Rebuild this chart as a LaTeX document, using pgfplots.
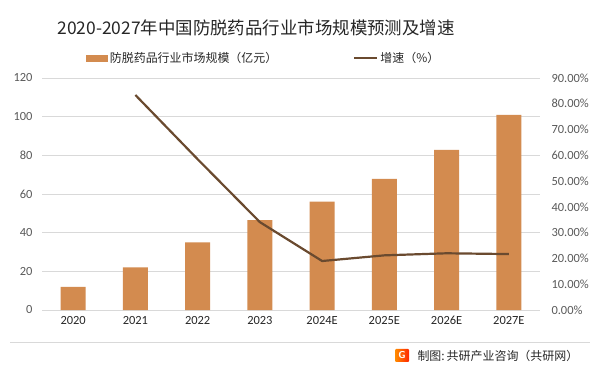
\documentclass[border=0pt]{standalone}
\usepackage{pgfplots}
\pgfplotsset{compat=1.18}
\usepackage{fontspec}
\setmainfont{Carlito}
\newfontfamily\cjk{Noto Sans CJK SC}
\definecolor{barc}{HTML}{D38B4F}
\definecolor{linec}{HTML}{6A4A2F}
\definecolor{gridc}{HTML}{D9D9D9}
\definecolor{tickc}{HTML}{595959}
\definecolor{txtc}{HTML}{262626}
\begin{document}
\begin{tikzpicture}
\useasboundingbox (0bp,0bp) rectangle (599bp,372bp);
\begin{axis}[
  at={(42bp,62bp)}, anchor=south west,
  scale only axis, width=498bp, height=232bp,
  xmin=-0.5, xmax=7.5, ymin=0, ymax=120,
  ytick={0,20,...,120},
  xtick={0,...,7},
  xticklabels={2020,2021,2022,2023,2024E,2025E,2026E,2027E},
  axis line style={draw=none},
  major tick length=0pt,
  ymajorgrids,
  grid style={gridc, line width=0.8bp},
  /pgf/number format/assume math mode=true,
  yticklabel style={font=\fontsize{12.5}{13}\selectfont, text=tickc, xshift=-6bp},
  xticklabel style={font=\fontsize{12.5}{13}\selectfont, text=txtc, yshift=-3bp},
  legend style={at={(0.445,1.086)}, anchor=center, draw=none, fill=none,
    legend columns=2, font=\cjk\fontsize{12}{14}\selectfont, text=txtc,
    /tikz/every even column/.append style={column sep=74bp}},
]
\addplot[ybar, bar width=25bp, fill=barc, draw=none,
  legend image code/.code={\fill[barc] (0bp,-3.5bp) rectangle (22bp,3.5bp);}]
  coordinates {(0,12) (1,22) (2,35) (3,46.5) (4,56) (5,67.8) (6,82.8) (7,100.9)};
\addlegendentry{防脱药品行业市场规模（亿元）}
\addlegendimage{legend image code/.code={\draw[linec, line width=2.2bp] (0bp,0bp) -- (23bp,0bp);}}
\addlegendentry{增速（\%）}
\end{axis}
\begin{axis}[
  at={(42bp,62bp)}, anchor=south west,
  scale only axis, width=498bp, height=232bp,
  xmin=-0.5, xmax=7.5, ymin=0, ymax=90,
  axis x line=none,
  axis y line*=right,
  axis line style={draw=none},
  major tick length=0pt,
  ytick={0,10,...,90},
  yticklabels={0.00\%,10.00\%,20.00\%,30.00\%,40.00\%,50.00\%,60.00\%,70.00\%,80.00\%,90.00\%},
  yticklabel style={font=\fontsize{12.5}{13}\selectfont, text=tickc, xshift=8bp},
]
\addplot[linec, line width=2.2bp, no markers]
  coordinates {(1,83.4) (2,58.5) (3,34.1) (4,19.0) (5,21.2) (6,22.0) (7,21.7)};
\end{axis}
\node[font=\cjk\fontsize{17.5}{19}\selectfont, text=txtc] at (256bp,344bp) {2020-2027年中国防脱药品行业市场规模预测及增速};
\draw[gridc, line width=0.8bp] (10bp,30bp) -- (590bp,30bp);
\shade[left color=orange!90!yellow, right color=red!70!orange, rounded corners=1bp] (395bp,10bp) rectangle (409bp,23bp);
\node[font=\sffamily\bfseries\fontsize{10}{10}\selectfont, text=white] at (402bp,16.5bp) {G};
\node[font=\cjk\fontsize{12}{14}\selectfont, text=txtc, anchor=west] at (414bp,16bp) {制图:\,共研产业咨询（共研网）};
\end{tikzpicture}
\end{document}
